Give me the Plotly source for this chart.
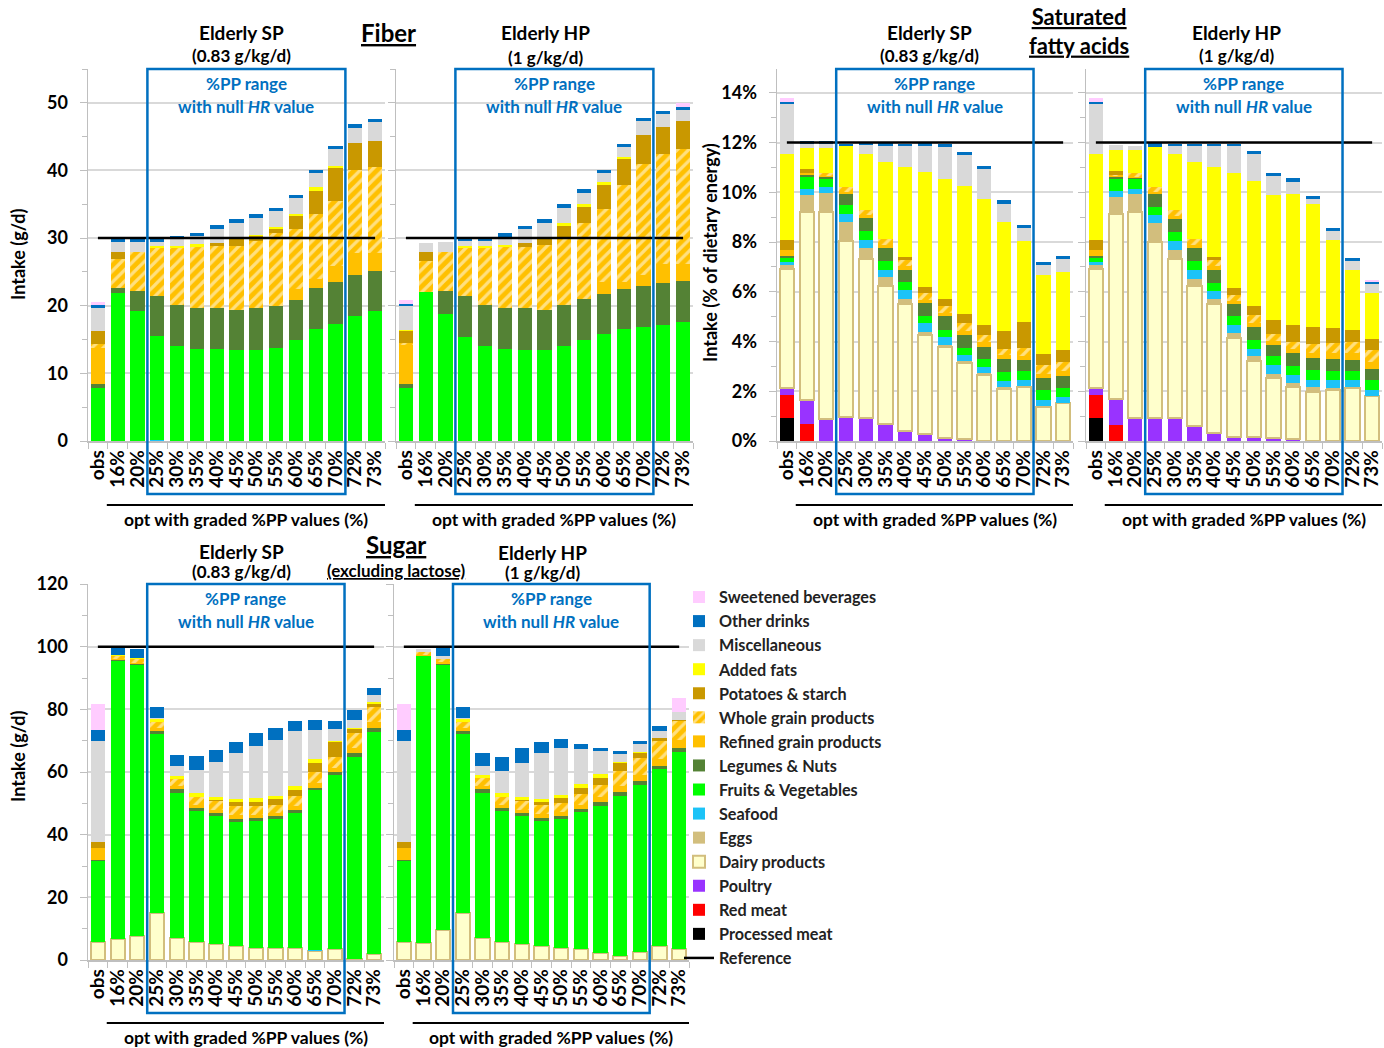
import plotly.graph_objects as go

OFF = 0
FW, FH = 1384, 1048


def px(x):
    return (x - OFF) / FW


def py(y):
    return 1 - (y - OFF) / FH


categories = ["obs", "16%", "20%", "25%", "30%", "35%", "40%", "45%", "50%",
              "55%", "60%", "65%", "70%", "72%", "73%"]

# ---------------- Fiber (g/d) ----------------
fib_sp_seafood = [0, 0, 0, 0.15, 0, 0, 0, 0, 0, 0, 0, 0, 0, 0, 0]
fib_sp_fv = [7.8, 21.9, 19.2, 15.35, 14.1, 13.6, 13.6, 13.4, 13.4, 13.8, 14.9, 16.6, 17.3, 18.5, 19.2]
fib_sp_legumes = [0.6, 0.7, 3.0, 6.0, 6.0, 6.0, 6.0, 5.9, 6.2, 6.1, 6.0, 6.0, 6.2, 6.0, 6.0]
fib_sp_refined = [5.4, 0, 0, 0, 0, 0, 0, 0, 0, 0, 1.6, 1.4, 2.4, 3.3, 2.6]
fib_sp_whole = [0.5, 4.3, 5.8, 7.1, 8.5, 9.1, 9.3, 9.6, 9.9, 10.8, 8.9, 9.6, 9.6, 12.2, 12.7]
fib_sp_potatoes = [2.0, 1.1, 0, 0, 0, 0, 0.4, 0.9, 0.8, 0.6, 1.9, 3.4, 4.9, 4.0, 3.9]
fib_sp_fats = [0, 0, 0, 0.3, 0.3, 0.4, 0, 0.4, 0.2, 0.3, 0.3, 0.5, 0.2, 0, 0]
fib_sp_misc = [3.4, 1.4, 1.4, 0.5, 0.9, 1.2, 2.1, 2.1, 2.5, 2.4, 2.3, 2.1, 2.5, 2.3, 2.7]
fib_sp_drinks = [0.4, 0.4, 0.4, 0.4, 0.5, 0.5, 0.5, 0.5, 0.5, 0.5, 0.5, 0.5, 0.5, 0.5, 0.5]
fib_sp_sweet = [0.5, 0, 0, 0, 0, 0, 0, 0, 0, 0, 0, 0, 0, 0, 0]

fib_hp_fv = [7.8, 22.0, 18.8, 15.4, 14.1, 13.6, 13.4, 13.4, 14.1, 15.0, 15.8, 16.6, 16.9, 17.2, 17.6]
fib_hp_legumes = [0.6, 0, 3.4, 6.0, 6.0, 6.0, 6.2, 6.0, 6.0, 6.0, 6.0, 5.9, 6.0, 6.1, 6.0]
fib_hp_refined = [5.8, 0, 0, 0, 0, 0, 0, 0, 0, 0, 1.7, 1.0, 1.6, 2.9, 2.6]
fib_hp_whole = [0.3, 4.6, 5.8, 7.2, 8.5, 9.1, 9.1, 9.6, 10.1, 11.2, 10.8, 14.3, 16.4, 16.2, 17.0]
fib_hp_potatoes = [1.7, 1.3, 0, 0, 0, 0, 0.6, 0.8, 1.6, 2.4, 3.5, 3.9, 4.3, 4.0, 4.1]
fib_hp_fats = [0.2, 0, 0, 0.3, 0.3, 0.3, 0, 0.4, 0.5, 0.4, 0.5, 0.3, 0, 0, 0]
fib_hp_misc = [3.5, 1.4, 1.4, 0.6, 0.7, 1.2, 2.0, 2.1, 2.2, 1.7, 1.3, 1.4, 2.1, 1.9, 1.7]
fib_hp_drinks = [0.3, 0, 0, 0.4, 0.5, 0.5, 0.5, 0.5, 0.5, 0.5, 0.5, 0.5, 0.5, 0.5, 0.4]
fib_hp_sweet = [0.6, 0, 0, 0, 0, 0, 0, 0, 0, 0, 0, 0, 0, 0, 0.5]

# ---------------- Saturated fatty acids (% energy) ----------------
sfa_sp_processed = [0.94, 0, 0, 0, 0, 0, 0, 0, 0, 0, 0, 0, 0, 0, 0]
sfa_sp_red = [0.91, 0.67, 0, 0, 0, 0, 0, 0, 0, 0, 0, 0, 0, 0, 0]
sfa_sp_poultry = [0.27, 0.98, 0.87, 0.98, 0.91, 0.67, 0.42, 0.27, 0.11, 0.07, 0, 0, 0, 0, 0]
sfa_sp_dairy = [4.8, 7.57, 8.35, 7.06, 6.41, 5.56, 5.08, 4.0, 3.69, 3.06, 2.65, 2.08, 2.16, 1.35, 1.51]
sfa_sp_eggs = [0.16, 0.67, 0.74, 0.75, 0.46, 0.38, 0.21, 0.1, 0.07, 0.07, 0.07, 0.1, 0.05, 0.05, 0]
sfa_sp_seafood = [0.13, 0.24, 0.24, 0.32, 0.31, 0.27, 0.36, 0.36, 0.31, 0.24, 0.24, 0.24, 0.23, 0.25, 0.24]
sfa_sp_fv = [0.15, 0.5, 0.35, 0.38, 0.36, 0.36, 0.31, 0.31, 0.29, 0.32, 0.34, 0.36, 0.36, 0.42, 0.4]
sfa_sp_legumes = [0.07, 0.05, 0.05, 0.44, 0.51, 0.54, 0.5, 0.5, 0.54, 0.51, 0.5, 0.51, 0.44, 0.46, 0.47]
sfa_sp_refined = [0.27, 0.08, 0.05, 0.07, 0.12, 0.12, 0.15, 0.15, 0.15, 0.17, 0.17, 0.15, 0.18, 0.18, 0.2]
sfa_sp_whole = [0, 0, 0.14, 0.2, 0.22, 0.22, 0.25, 0.25, 0.25, 0.3, 0.3, 0.28, 0.32, 0.33, 0.36]
sfa_sp_potatoes = [0.4, 0.16, 0, 0, 0, 0, 0.13, 0.27, 0.29, 0.36, 0.4, 0.71, 1.05, 0.47, 0.47]
sfa_sp_fats = [3.45, 0.87, 1.0, 1.66, 2.25, 3.12, 3.59, 4.62, 4.84, 5.16, 5.07, 4.36, 3.24, 3.15, 3.15]
sfa_sp_misc = [2.0, 0.17, 0.17, 0, 0.34, 0.64, 0.87, 1.05, 1.3, 1.25, 1.19, 0.76, 0.54, 0.4, 0.51]
sfa_sp_drinks = [0.1, 0.1, 0.1, 0.1, 0.09, 0.09, 0.09, 0.09, 0.09, 0.13, 0.13, 0.13, 0.13, 0.13, 0.13]
sfa_sp_sweet = [0.15, 0, 0, 0, 0, 0, 0, 0, 0, 0, 0, 0, 0, 0, 0]

sfa_hp_processed = [0.94, 0, 0, 0, 0, 0, 0, 0, 0, 0, 0, 0, 0, 0, 0]
sfa_hp_red = [0.91, 0.64, 0, 0, 0, 0, 0, 0, 0, 0, 0, 0, 0, 0, 0]
sfa_hp_poultry = [0.27, 1.03, 0.91, 0.91, 0.91, 0.6, 0.34, 0.17, 0.17, 0.13, 0.08, 0, 0, 0, 0]
sfa_hp_dairy = [4.8, 7.44, 8.31, 7.1, 6.39, 5.64, 5.17, 3.98, 3.04, 2.41, 2.08, 1.98, 2.05, 2.12, 1.81]
sfa_hp_eggs = [0.16, 0.71, 0.7, 0.76, 0.4, 0.27, 0.19, 0.2, 0.2, 0.15, 0.19, 0.2, 0.07, 0.05, 0]
sfa_hp_seafood = [0.13, 0.24, 0.21, 0.31, 0.35, 0.36, 0.35, 0.31, 0.31, 0.36, 0.31, 0.27, 0.34, 0.27, 0.24]
sfa_hp_fv = [0.15, 0.47, 0.4, 0.34, 0.36, 0.36, 0.32, 0.36, 0.36, 0.36, 0.36, 0.4, 0.36, 0.36, 0.4]
sfa_hp_legumes = [0.07, 0.07, 0.05, 0.51, 0.5, 0.54, 0.51, 0.47, 0.51, 0.47, 0.51, 0.47, 0.47, 0.47, 0.43]
sfa_hp_refined = [0.27, 0.04, 0.05, 0.07, 0.13, 0.12, 0.15, 0.15, 0.17, 0.16, 0.17, 0.22, 0.24, 0.26, 0.28]
sfa_hp_whole = [0, 0.05, 0.14, 0.2, 0.24, 0.22, 0.25, 0.25, 0.3, 0.28, 0.3, 0.38, 0.4, 0.45, 0.5]
sfa_hp_potatoes = [0.4, 0.16, 0, 0, 0, 0, 0.13, 0.28, 0.38, 0.56, 0.67, 0.67, 0.63, 0.47, 0.44]
sfa_hp_fats = [3.45, 0.87, 0.94, 1.64, 2.25, 3.12, 3.59, 4.62, 5.01, 5.03, 5.25, 4.96, 3.53, 2.44, 1.86]
sfa_hp_misc = [2.0, 0.17, 0.17, 0, 0.34, 0.64, 0.87, 1.06, 1.09, 0.74, 0.51, 0.17, 0.36, 0.34, 0.34]
sfa_hp_drinks = [0.1, 0, 0, 0.19, 0.09, 0.09, 0.09, 0.09, 0.13, 0.13, 0.13, 0.13, 0.13, 0.11, 0.08]
sfa_hp_sweet = [0.15, 0, 0, 0, 0, 0, 0, 0, 0, 0, 0, 0, 0, 0, 0.09]

# ---------------- Sugar excluding lactose (g/d) ----------------
sug_sp_dairy = [5.6, 6.6, 7.8, 14.9, 7.1, 5.9, 5.0, 4.6, 3.7, 3.9, 3.9, 2.9, 3.5, 0.3, 1.8]
sug_sp_seafood = [0, 0, 0, 0, 0, 0, 0, 0, 0.2, 0, 0, 0.2, 0, 0, 0]
sug_sp_fv = [26.0, 88.8, 86.3, 57.2, 46.3, 41.8, 41.1, 39.4, 40.6, 41.0, 42.9, 51.2, 55.5, 64.6, 71.1]
sug_sp_legumes = [0.3, 0.3, 0.5, 1.1, 1.1, 0.7, 0.7, 1.1, 0.7, 1.1, 1.1, 0.7, 0.9, 1.1, 1.3]
sug_sp_refined = [4.0, 0.4, 0.3, 1.0, 1.0, 1.0, 1.2, 1.1, 1.2, 1.0, 1.2, 1.5, 1.4, 1.8, 1.9]
sug_sp_whole = [0, 0.8, 1.3, 1.6, 2.2, 2.5, 2.8, 2.8, 2.8, 2.5, 3.1, 3.6, 3.6, 4.6, 4.8]
sug_sp_potatoes = [1.8, 0, 0, 0, 0, 0, 0.4, 1.3, 1.3, 1.8, 2.1, 2.9, 4.6, 1.3, 0.9]
sug_sp_fats = [0, 0.3, 0.3, 1.1, 1.1, 1.3, 0.9, 1.1, 1.1, 1.1, 1.1, 1.1, 0.5, 0.3, 0.4]
sug_sp_misc = [32.2, 0, 0, 0.3, 3.2, 7.4, 11.0, 14.7, 16.8, 17.7, 17.6, 9.4, 3.7, 2.7, 2.4]
sug_sp_drinks = [3.5, 2.4, 2.9, 3.5, 3.5, 4.5, 3.9, 3.5, 3.9, 3.9, 3.2, 3.0, 2.7, 3.2, 2.1]
sug_sp_sweet = [8.2, 0.4, 0, 0, 0, 0, 0, 0, 0, 0, 0, 0, 0, 0, 0]

sug_hp_dairy = [5.6, 5.3, 9.6, 14.9, 7.1, 5.9, 5.0, 4.5, 3.7, 3.4, 2.1, 1.4, 2.7, 4.6, 3.4]
sug_hp_fv = [26.0, 91.7, 84.5, 57.2, 46.3, 41.8, 41.1, 40.0, 41.2, 43.7, 47.1, 51.1, 53.0, 56.3, 63.1]
sug_hp_legumes = [0.3, 0, 0.5, 1.1, 1.2, 0.7, 0.7, 0.7, 0.9, 1.0, 1.1, 1.1, 1.3, 0.9, 1.1]
sug_hp_refined = [4.0, 0.5, 0.5, 1.0, 1.0, 1.1, 1.2, 1.3, 1.3, 1.5, 1.7, 2.0, 2.2, 2.4, 2.6]
sug_hp_whole = [0, 0.9, 1.1, 1.6, 2.4, 2.6, 2.8, 3.0, 3.0, 3.4, 3.8, 4.8, 5.2, 5.6, 6.2]
sug_hp_potatoes = [1.8, 0, 0, 0, 0, 0, 0.4, 0.9, 1.6, 1.8, 2.4, 2.4, 1.8, 0.9, 0.2]
sug_hp_fats = [0, 0, 0, 1.1, 1.1, 1.1, 0.9, 1.0, 1.1, 1.4, 1.1, 0.5, 0.3, 0, 0]
sug_hp_misc = [32.2, 0.7, 0.7, 0.3, 2.9, 7.1, 10.9, 14.7, 14.9, 11.1, 7.3, 2.3, 2.3, 2.3, 2.4]
sug_hp_drinks = [3.5, 0, 2.8, 3.5, 4.0, 4.4, 4.6, 3.5, 2.9, 1.6, 1.2, 1.1, 1.2, 1.6, 0]
sug_hp_sweet = [8.2, 0, 0, 0, 0, 0, 0, 0, 0, 0, 0, 0, 0, 0, 4.7]

reference_fiber = 30
reference_sfa = 12
reference_sugar = 100

# food groups, bottom of stack to top
groups = ["Processed meat", "Red meat", "Poultry", "Dairy products", "Eggs", "Seafood",
          "Fruits & Vegetables", "Legumes & Nuts", "Refined grain products",
          "Whole grain products", "Potatoes & starch", "Added fats", "Miscellaneous",
          "Other drinks", "Sweetened beverages"]
colors = {
    "Processed meat": "#000000", "Red meat": "#FF0000", "Poultry": "#9933FF",
    "Dairy products": "#FFFFCC", "Eggs": "#D2BE7D", "Seafood": "#1CC3F7",
    "Fruits & Vegetables": "#00FF00", "Legumes & Nuts": "#548235",
    "Refined grain products": "#FFC000", "Whole grain products": "#FFC000",
    "Potatoes & starch": "#C99800", "Added fats": "#FFFF00",
    "Miscellaneous": "#D9D9D9", "Other drinks": "#0070C0",
    "Sweetened beverages": "#FFCCFF",
}

panels = [
    dict(data={"Seafood": fib_sp_seafood, "Fruits & Vegetables": fib_sp_fv,
               "Legumes & Nuts": fib_sp_legumes, "Refined grain products": fib_sp_refined,
               "Whole grain products": fib_sp_whole, "Potatoes & starch": fib_sp_potatoes,
               "Added fats": fib_sp_fats, "Miscellaneous": fib_sp_misc,
               "Other drinks": fib_sp_drinks, "Sweetened beverages": fib_sp_sweet},
         ref=reference_fiber, xd=(88, 385), yd=(69, 441), yr=55, dt=10, labels=True,
         box=(69, 494), line_y=505, text_y=519),
    dict(data={"Fruits & Vegetables": fib_hp_fv, "Legumes & Nuts": fib_hp_legumes,
               "Refined grain products": fib_hp_refined, "Whole grain products": fib_hp_whole,
               "Potatoes & starch": fib_hp_potatoes, "Added fats": fib_hp_fats,
               "Miscellaneous": fib_hp_misc, "Other drinks": fib_hp_drinks,
               "Sweetened beverages": fib_hp_sweet},
         ref=reference_fiber, xd=(396, 693), yd=(69, 441), yr=55, dt=10, labels=False,
         box=(69, 494), line_y=505, text_y=519),
    dict(data={"Processed meat": sfa_sp_processed, "Red meat": sfa_sp_red,
               "Poultry": sfa_sp_poultry, "Dairy products": sfa_sp_dairy, "Eggs": sfa_sp_eggs,
               "Seafood": sfa_sp_seafood, "Fruits & Vegetables": sfa_sp_fv,
               "Legumes & Nuts": sfa_sp_legumes, "Refined grain products": sfa_sp_refined,
               "Whole grain products": sfa_sp_whole, "Potatoes & starch": sfa_sp_potatoes,
               "Added fats": sfa_sp_fats, "Miscellaneous": sfa_sp_misc,
               "Other drinks": sfa_sp_drinks, "Sweetened beverages": sfa_sp_sweet},
         ref=reference_sfa, xd=(777, 1073), yd=(69, 441), yr=14.96, dt=2, labels=True,
         box=(69, 494), line_y=505, text_y=519, pct=True),
    dict(data={"Processed meat": sfa_hp_processed, "Red meat": sfa_hp_red,
               "Poultry": sfa_hp_poultry, "Dairy products": sfa_hp_dairy, "Eggs": sfa_hp_eggs,
               "Seafood": sfa_hp_seafood, "Fruits & Vegetables": sfa_hp_fv,
               "Legumes & Nuts": sfa_hp_legumes, "Refined grain products": sfa_hp_refined,
               "Whole grain products": sfa_hp_whole, "Potatoes & starch": sfa_hp_potatoes,
               "Added fats": sfa_hp_fats, "Miscellaneous": sfa_hp_misc,
               "Other drinks": sfa_hp_drinks, "Sweetened beverages": sfa_hp_sweet},
         ref=reference_sfa, xd=(1086, 1382), yd=(69, 441), yr=14.96, dt=2, labels=False,
         box=(69, 494), line_y=505, text_y=519, pct=True),
    dict(data={"Dairy products": sug_sp_dairy, "Seafood": sug_sp_seafood,
               "Fruits & Vegetables": sug_sp_fv, "Legumes & Nuts": sug_sp_legumes,
               "Refined grain products": sug_sp_refined, "Whole grain products": sug_sp_whole,
               "Potatoes & starch": sug_sp_potatoes, "Added fats": sug_sp_fats,
               "Miscellaneous": sug_sp_misc, "Other drinks": sug_sp_drinks,
               "Sweetened beverages": sug_sp_sweet},
         ref=reference_sugar, xd=(88, 384), yd=(584, 960), yr=120, dt=20, labels=True,
         box=(584, 1013), line_y=1023, text_y=1037),
    dict(data={"Dairy products": sug_hp_dairy, "Fruits & Vegetables": sug_hp_fv,
               "Legumes & Nuts": sug_hp_legumes, "Refined grain products": sug_hp_refined,
               "Whole grain products": sug_hp_whole, "Potatoes & starch": sug_hp_potatoes,
               "Added fats": sug_hp_fats, "Miscellaneous": sug_hp_misc,
               "Other drinks": sug_hp_drinks, "Sweetened beverages": sug_hp_sweet},
         ref=reference_sugar, xd=(394, 689), yd=(584, 960), yr=120, dt=20, labels=False,
         box=(584, 1013), line_y=1023, text_y=1037),
]

FONT = "Lato"
BLUE = "#0070C0"
AXC = "#BFBFBF"

fig = go.Figure()

# legend-only entry for the reference line
fig.add_trace(go.Scatter(x=[None], y=[None], mode="lines", name="Reference",
                         line=dict(color="black", width=2.5), showlegend=True,
                         legendrank=100, xaxis="x", yaxis="y"))

shown = set()
shapes = []
annotations = []
layout_axes = {}

for i, p in enumerate(panels, start=1):
    xa = "x" if i == 1 else f"x{i}"
    ya = "y" if i == 1 else f"y{i}"
    for rank, g in enumerate(groups):
        if g not in p["data"]:
            continue
        vals = [v if v else None for v in p["data"][g]]
        marker = dict(color=colors[g])
        if g == "Whole grain products":
            marker["pattern"] = dict(shape="/", fgcolor="white", bgcolor=colors[g],
                                     size=8, solidity=0.4)
        if g == "Dairy products":
            marker["line"] = dict(color=colors["Eggs"], width=2)
        else:
            marker["line"] = dict(width=0)
        fig.add_trace(go.Bar(x=categories, y=vals, name=g, marker=marker,
                             xaxis=xa, yaxis=ya, showlegend=g not in shown,
                             legendrank=len(groups) - rank))
        shown.add(g)

    x0, x1 = p["xd"]
    ytop, ybot = p["yd"]
    axis_key = "xaxis" if i == 1 else f"xaxis{i}"
    yaxis_key = "yaxis" if i == 1 else f"yaxis{i}"
    layout_axes[axis_key] = dict(
        domain=[px(x0), px(x1)], anchor=ya, type="category",
        categoryorder="array", categoryarray=categories, range=[-0.5, 14.5],
        tickmode="array", tickvals=categories, ticktext=categories,
        tickangle=-90, ticks="outside", tickson="boundaries", ticklen=6,
        tickcolor=AXC, showline=True, linecolor=AXC, linewidth=1.5,
        tickfont=dict(family=FONT, size=19, color="black", weight="bold"),
        showgrid=False, fixedrange=True, automargin=False,
    )
    layout_axes[yaxis_key] = dict(
        domain=[py(ybot), py(ytop)], anchor=xa, range=[0, p["yr"]], dtick=p["dt"],
        showgrid=True, gridcolor="#D9D9D9", gridwidth=2, zeroline=False,
        showline=True, linecolor=AXC, linewidth=1.5, ticks="outside", ticklen=7,
        tickcolor=AXC, showticklabels=p["labels"], ticklabelstandoff=8,
        ticksuffix="%" if p.get("pct") else "",
        tickfont=dict(family=FONT, size=18, color="black", weight="bold"),
        minor=dict(dtick=p["dt"] / 2, ticks="outside", ticklen=5, tickcolor=AXC,
                   showgrid=False),
        fixedrange=True, automargin=False,
    )

    # reference line
    shapes.append(dict(type="line", xref=xa, yref=ya, x0=0, x1=14,
                       y0=p["ref"], y1=p["ref"], line=dict(color="black", width=2.5),
                       layer="above"))
    # %PP range box
    b0, b1 = p["box"]
    shapes.append(dict(type="rect", xref=xa, yref="paper", x0=2.5, x1=12.5,
                       y0=py(b1), y1=py(b0), line=dict(color=BLUE, width=2.5),
                       fillcolor="rgba(0,0,0,0)", layer="above"))
    annotations.append(dict(xref=xa, yref="paper", x=7.5, y=py(b0 + 14),
                            xanchor="center", yanchor="middle",
                            text="<b>%PP range</b>", showarrow=False,
                            font=dict(family=FONT, size=17, color=BLUE)))
    annotations.append(dict(xref=xa, yref="paper", x=7.5, y=py(b0 + 37),
                            xanchor="center", yanchor="middle",
                            text="<b>with null <i>HR</i> value</b>", showarrow=False,
                            font=dict(family=FONT, size=17, color=BLUE)))
    # x-axis group label
    shapes.append(dict(type="line", xref=xa, yref="paper", x0=0.45, x1=14.5,
                       y0=py(p["line_y"]), y1=py(p["line_y"]),
                       line=dict(color="black", width=2)))
    annotations.append(dict(xref=xa, yref="paper", x=7.5, y=py(p["text_y"]),
                            xanchor="center", yanchor="middle",
                            text="<b>opt with graded %PP values (%)</b>", showarrow=False,
                            font=dict(family=FONT, size=17.5, color="black")))


def txt(x, y, text, size, angle=0):
    annotations.append(dict(xref="paper", yref="paper", x=px(x), y=py(y), text=text,
                            xanchor="center", yanchor="middle",
                            showarrow=False, textangle=angle,
                            font=dict(family=FONT, size=size, color="black")))


# panel titles
txt(241, 33, "<b>Elderly SP</b>", 19)
txt(241, 56, "<b>(0.83 g/kg/d)</b>", 17)
txt(389, 33, "<b><u>Fiber</u></b>", 24)
txt(545, 33, "<b>Elderly HP</b>", 19)
txt(545, 57, "<b>(1 g/kg/d)</b>", 17)

txt(930, 33, "<b>Elderly SP</b>", 19)
txt(930, 56, "<b>(0.83 g/kg/d)</b>", 17)
txt(1079, 31, "<b><u>Saturated</u></b><br><b><u>fatty acids</u></b>", 22)
txt(1236, 33, "<b>Elderly HP</b>", 19)
txt(1236, 56, "<b>(1 g/kg/d)</b>", 17)

txt(241, 551, "<b>Elderly SP</b>", 19)
txt(241, 571, "<b>(0.83 g/kg/d)</b>", 17)
txt(396, 544, "<b><u>Sugar</u></b>", 24)
txt(396, 570, "<b><u>(excluding lactose)</u></b>", 17)
txt(542, 552, "<b>Elderly HP</b>", 19)
txt(542, 572, "<b>(1 g/kg/d)</b>", 17)

# y-axis titles
txt(18, 255, "<b>Intake (g/d)</b>", 18, -90)
txt(710, 252, "<b>Intake (% of dietary energy)</b>", 18, -90)
txt(18, 757, "<b>Intake (g/d)</b>", 18, -90)

fig.update_layout(
    width=FW, height=FH, margin=dict(l=0, r=0, t=0, b=0, pad=0, autoexpand=False),
    paper_bgcolor="white", plot_bgcolor="white",
    barmode="stack", bargap=0.28,
    font=dict(family=FONT, size=16, color="black"),
    shapes=shapes, annotations=annotations,
    showlegend=True,
    legend=dict(x=px(679), y=py(580), xanchor="left", yanchor="top",
                traceorder="normal", bgcolor="rgba(0,0,0,0)",
                font=dict(family=FONT, size=16.2, color="#222222", weight="bold"),
                itemclick=False, itemdoubleclick=False),
    **layout_axes,
)

# remove the browser's default page margin so the figure fills the window exactly
fig.write_html("out.html",
               config={"displayModeBar": False, "staticPlot": True},
               post_script="document.body.style.margin='0';"
                           "document.body.style.overflow='hidden';")
